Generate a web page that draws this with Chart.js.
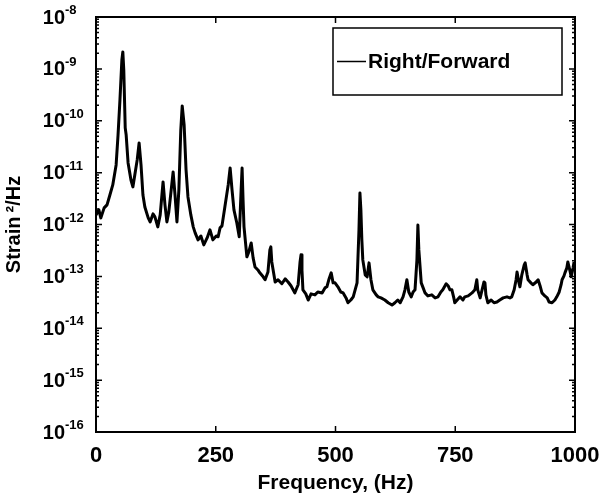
<!DOCTYPE html>
<html>
<head>
<meta charset="utf-8">
<script src="https://cdn.jsdelivr.net/npm/chart.js@4.4.1/dist/chart.umd.min.js"></script>
<style>
  html, body { margin: 0; padding: 0; background: #fff; }
  #wrap { width: 613px; height: 503px; }
</style>
</head>
<body>
<div id="wrap"><canvas id="psd" width="613" height="503"></canvas></div>
<script>
const FONT = '"Liberation Sans", Arial, Helvetica, sans-serif';

// frequency (Hz) and strain PSD (strain^2/Hz)
const freqHz = [
    0, 6, 10, 17, 23, 29, 35, 42, 46, 50, 54, 56, 58, 61, 63, 67, 73, 77, 81, 86,
    90, 94, 98, 102, 109, 113, 119, 123, 129, 134, 140, 144, 148, 152, 157, 161, 165, 169, 173, 177,
    180, 184, 188, 192, 198, 203, 207, 213, 219, 225, 232, 238, 244, 251, 255, 259, 263, 269, 276, 280,
    284, 288, 294, 299, 303, 305, 307, 309, 315, 319, 324, 328, 332, 338, 342, 349, 353, 359, 363, 365,
    367, 374, 380, 388, 395, 401, 407, 415, 422, 426, 428, 430, 432, 438, 443, 449, 457, 463, 472, 478,
    482, 486, 491, 495, 499, 505, 511, 516, 522, 526, 532, 537, 541, 545, 549, 551, 553, 555, 557, 562,
    566, 570, 574, 578, 585, 589, 595, 603, 610, 618, 624, 630, 635, 641, 645, 649, 653, 658, 662, 666,
    670, 672, 674, 679, 683, 687, 693, 701, 708, 714, 720, 724, 731, 735, 739, 743, 747, 749, 754, 760,
    766, 770, 777, 785, 791, 795, 797, 802, 806, 810, 812, 814, 818, 825, 831, 837, 843, 850, 858, 864,
    868, 873, 877, 879, 883, 885, 889, 894, 896, 900, 902, 908, 912, 919, 923, 927, 931, 937, 942, 946,
    952, 958, 962, 967, 971, 973, 977, 979, 983, 985, 990, 992, 996, 998
];
const strainPsd = [
    1.53e-12, 1.91e-12, 1.34e-12, 2.09e-12, 2.39e-12, 3.7e-12, 5.8e-12, 1.41e-11, 5.3e-11, 2.52e-10,
    1.48e-9, 2.12e-9, 9.5e-10, 7.3e-11, 5.3e-11, 1.54e-11, 7.2e-12, 5.3e-12, 9.0e-12, 1.76e-11,
    3.73e-11, 1.41e-11, 3.7e-12, 2.18e-12, 1.34e-12, 1.12e-12, 1.6e-12, 1.4e-12, 9.0e-13, 1.53e-12,
    6.6e-12, 2.39e-12, 1.12e-12, 1.75e-12, 4.65e-12, 1.03e-11, 3.7e-12, 1.12e-12, 4.65e-12, 6.65e-11,
    1.93e-10, 8.3e-11, 1.13e-11, 3.4e-12, 1.53e-12, 9.0e-13, 6.9e-13, 5.05e-13, 6.0e-13, 4.05e-13,
    5.5e-13, 7.9e-13, 5.05e-13, 6.0e-13, 5.8e-13, 8.6e-13, 9.4e-13, 2.18e-12, 5.8e-12, 1.23e-11,
    4.65e-12, 1.91e-12, 1.07e-12, 5.8e-13, 4.65e-12, 1.23e-11, 2.98e-12, 9.0e-13, 2.38e-13, 2.96e-13,
    4.4e-13, 2.27e-13, 1.52e-13, 1.33e-13, 1.17e-13, 9.8e-14, 8.6e-14, 1.22e-13, 3.24e-13, 3.7e-13,
    1.9e-13, 7.8e-14, 8.6e-14, 7.2e-14, 8.95e-14, 7.8e-14, 6.6e-14, 4.8e-14, 6.9e-14, 1.9e-13,
    2.6e-13, 1.33e-13, 5.5e-14, 4.6e-14, 3.5e-14, 4.6e-14, 4.4e-14, 5.0e-14, 4.8e-14, 6.0e-14,
    6.3e-14, 8.6e-14, 1.17e-13, 7.5e-14, 7.5e-14, 6.3e-14, 5.0e-14, 4.8e-14, 3.85e-14, 3.1e-14,
    3.5e-14, 4.03e-14, 5.5e-14, 7.5e-14, 7.9e-13, 4.06e-12, 1.91e-12, 5.05e-13, 2.08e-13, 1.07e-13,
    9.8e-14, 1.82e-13, 8.6e-14, 5.5e-14, 4.4e-14, 4.03e-14, 3.85e-14, 3.5e-14, 3.1e-14, 2.8e-14,
    3.1e-14, 3.5e-14, 3.1e-14, 4.03e-14, 5.5e-14, 8.6e-14, 5.0e-14, 4.03e-14, 5.0e-14, 5.5e-14,
    2.08e-13, 9.8e-13, 3.24e-13, 7.5e-14, 6.0e-14, 4.8e-14, 4.2e-14, 4.4e-14, 3.85e-14, 4.03e-14,
    5.0e-14, 5.5e-14, 7.2e-14, 6.6e-14, 5.5e-14, 5.5e-14, 3.85e-14, 3.1e-14, 3.5e-14, 4.03e-14,
    3.5e-14, 4.03e-14, 4.2e-14, 4.8e-14, 5.5e-14, 8.6e-14, 5.5e-14, 3.85e-14, 5.5e-14, 7.8e-14,
    7.5e-14, 4.4e-14, 3.1e-14, 3.5e-14, 3.1e-14, 3.2e-14, 3.5e-14, 3.85e-14, 4.03e-14, 3.85e-14,
    4.03e-14, 5.5e-14, 8.6e-14, 1.22e-13, 7.5e-14, 6.3e-14, 1.07e-13, 1.67e-13, 1.82e-13, 1.07e-13,
    8.6e-14, 7.5e-14, 6.9e-14, 7.8e-14, 8.6e-14, 6.6e-14, 4.8e-14, 4.2e-14, 3.85e-14, 3.2e-14,
    3.1e-14, 3.5e-14, 4.03e-14, 5.0e-14, 6.9e-14, 8.6e-14, 1.02e-13, 1.17e-13, 1.46e-13, 1.9e-13,
    1.22e-13, 9.8e-14, 1.46e-13, 1.9e-13
];

const seriesLabel = 'Right/Forward';
const xTicks = [0, 250, 500, 750, 1000];
const yDecades = [-16, -15, -14, -13, -12, -11, -10, -9, -8];

// matlab-like box, inward ticks, 10^n labels and the boxed legend
const matlabFrame = {
    id: 'matlabFrame',
    afterDraw(chart) {
        const { ctx, chartArea: a, scales: { x, y } } = chart;
        ctx.save();
        ctx.strokeStyle = '#000';
        ctx.lineWidth = 2;
        ctx.strokeRect(a.left, a.top, a.right - a.left, a.bottom - a.top);

        ctx.lineWidth = 1.5;
        ctx.beginPath();
        xTicks.forEach(v => {
            const px = x.getPixelForValue(v);
            ctx.moveTo(px, a.bottom); ctx.lineTo(px, a.bottom - 6);
            ctx.moveTo(px, a.top); ctx.lineTo(px, a.top + 6);
        });
        yDecades.forEach(e => {
            for (let m = 1; m <= 9; m++) {
                if (e === -8 && m > 1) break;
                const py = y.getPixelForValue(m * Math.pow(10, e));
                const len = m === 1 ? 6 : 3;
                ctx.moveTo(a.left, py); ctx.lineTo(a.left + len, py);
                ctx.moveTo(a.right, py); ctx.lineTo(a.right - len, py);
            }
        });
        ctx.stroke();

        ctx.fillStyle = '#000';
        yDecades.forEach(e => {
            const py = y.getPixelForValue(Math.pow(10, e));
            ctx.font = `bold 20px ${FONT}`;
            ctx.textAlign = 'right';
            ctx.textBaseline = 'middle';
            ctx.fillText('10', a.left - 31, py + 1);
            ctx.font = `bold 13px ${FONT}`;
            ctx.textAlign = 'left';
            ctx.textBaseline = 'alphabetic';
            ctx.fillText(String(e), a.left - 31, py - 3);
        });

        // legend box
        const lx = a.left + 237, ly = a.top + 11, lw = 229, lh = 67;
        ctx.fillStyle = '#fff';
        ctx.fillRect(lx, ly, lw, lh);
        ctx.lineWidth = 1.5;
        ctx.strokeRect(lx, ly, lw, lh);
        const midY = ly + lh / 2;
        ctx.beginPath();
        ctx.moveTo(lx + 4, midY); ctx.lineTo(lx + 33, midY);
        ctx.stroke();
        ctx.fillStyle = '#000';
        ctx.font = `bold 21px ${FONT}`;
        ctx.textAlign = 'left';
        ctx.textBaseline = 'middle';
        ctx.fillText(chart.data.datasets[0].label, lx + 35, midY + 1);
        ctx.restore();
    }
};

const points = freqHz.map((f, i) => ({ x: f, y: strainPsd[i] }));

new Chart(document.getElementById('psd'), {
    type: 'line',
    data: {
        datasets: [{
            label: seriesLabel,
            data: points,
            borderColor: '#000',
            borderWidth: 3,
            borderJoinStyle: 'round',
            pointRadius: 0,
            tension: 0,
            fill: false
        }]
    },
    options: {
        responsive: false,
        animation: false,
        devicePixelRatio: 1,
        layout: { padding: { top: 17, right: 38, left: 0, bottom: 0 } },
        plugins: { legend: { display: false }, tooltip: { enabled: false } },
        scales: {
            x: {
                type: 'linear',
                min: 0,
                max: 1000,
                afterBuildTicks: s => { s.ticks = xTicks.map(v => ({ value: v })); },
                afterFit: s => { s.height = 71; },
                grid: { display: false, drawTicks: false },
                border: { display: false },
                ticks: {
                    color: '#000',
                    padding: 11,
                    maxRotation: 0,
                    callback: v => String(v),
                    font: { family: FONT, size: 22, weight: 'bold' }
                },
                title: {
                    display: true,
                    text: 'Frequency, (Hz)',
                    color: '#000',
                    padding: { top: 0, bottom: 7 },
                    font: { family: FONT, size: 21, weight: 'bold' }
                }
            },
            y: {
                type: 'logarithmic',
                min: 1e-16,
                max: 1e-8,
                afterFit: s => { s.width = 96; },
                grid: { display: false, drawTicks: false },
                border: { display: false },
                ticks: { display: false },
                title: {
                    display: true,
                    text: 'Strain\u2009\u00b2/Hz',
                    color: '#000',
                    padding: { top: 2, bottom: 0 },
                    font: { family: FONT, size: 20, weight: 'bold' }
                }
            }
        }
    },
    plugins: [matlabFrame]
});
</script>
</body>
</html>
